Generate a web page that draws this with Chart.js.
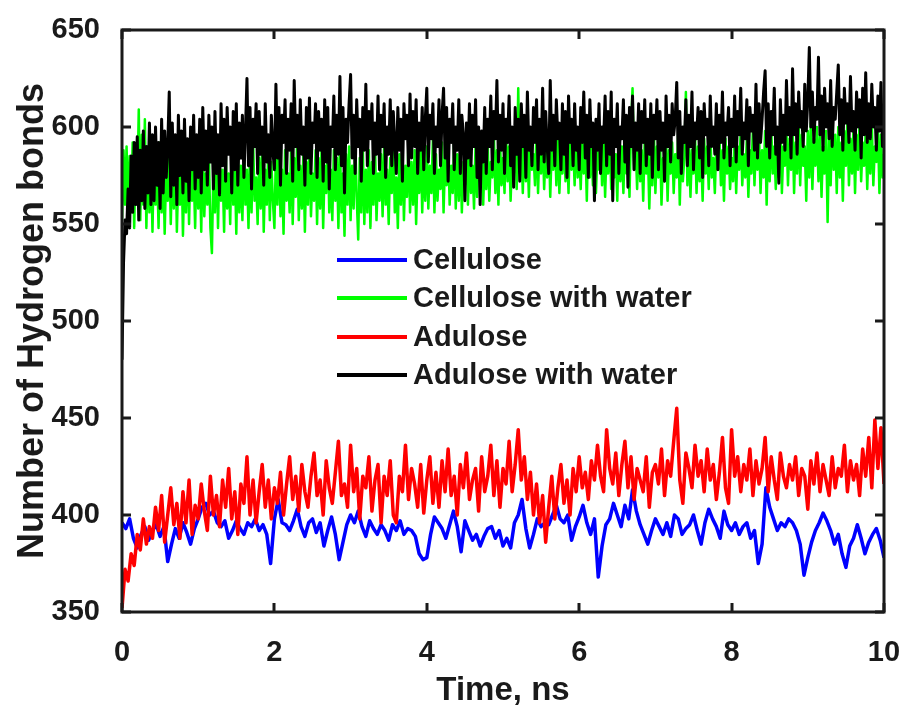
<!DOCTYPE html>
<html>
<head>
<meta charset="utf-8">
<script src="https://cdn.jsdelivr.net/npm/chart.js@4.4.1/dist/chart.umd.min.js"></script>
<style>
  html, body { margin: 0; padding: 0; background: #fff; }
  #wrap { width: 905px; height: 705px; }
</style>
</head>
<body>
<div id="wrap"><canvas id="hbonds" width="905" height="705"></canvas></div>
<script>
const seriesLabels = ['Cellulose', 'Cellulose with water', 'Adulose', 'Adulose with water'];
const xTicks = [0, 2, 4, 6, 8, 10];
const yTicks = [350, 400, 450, 500, 550, 600, 650];
const xTitle = 'Time, ns';
const yTitle = 'Number of Hydrogen bonds';
const timeEnd = 10;

// Cellulose (blue), 0.05 ns sampling
const cellulose = [
  396, 393, 398, 388, 383, 390, 394, 387, 392, 395,
  389, 394, 376, 385, 393, 388, 396, 391, 385, 393,
  398, 404, 406, 400, 402, 396, 394, 397, 388, 392,
  397, 393, 390, 396, 394, 398, 392, 395, 390, 375,
  398, 408, 396, 395, 392, 397, 403, 394, 389, 396,
  398, 391, 396, 384, 392, 399, 390, 377, 386, 395,
  400, 396, 402, 394, 389, 397, 393, 390, 395, 392,
  387, 395, 392, 397, 390, 393, 392, 389, 380, 377,
  378, 390, 399, 396, 393, 388, 395, 402, 394, 381,
  397, 392, 387, 390, 384, 389, 393, 394, 388, 392,
  384, 388, 383, 396, 400, 408, 393, 383, 390, 398,
  394, 396, 395, 400, 405, 398, 396, 400, 387, 394,
  399, 405, 396, 390, 398, 368, 384, 395, 398, 406,
  400, 394, 405, 398, 413, 402, 395, 390, 385, 392,
  398, 394, 390, 396, 389, 400, 398, 390, 393, 395,
  400, 392, 385, 396, 403, 398, 394, 388, 402, 395,
  392, 396, 390, 394, 396, 388, 392, 375, 385, 414,
  404, 398, 392, 396, 394, 398, 396, 392, 385, 369,
  378, 386, 392, 396, 401, 397, 392, 385, 390, 380,
  373, 384, 388, 395, 388, 380, 386, 390, 393, 387,
  378
];

// Cellulose with water (green), 0.02 ns sampling
const celluloseWater = [
  552, 588, 560, 590, 555, 585, 562, 592, 548, 586,
  566, 609, 552, 596, 560, 604, 548, 590, 556, 584,
  546, 588, 560, 580, 548, 592, 556, 584, 545, 578,
  562, 590, 550, 582, 558, 594, 546, 576, 560, 586,
  544, 580, 556, 590, 550, 584, 562, 578, 548, 588,
  558, 582, 546, 592, 554, 576, 560, 586, 548, 535,
  580, 556, 590, 548, 584, 562, 578, 546, 588, 558,
  576, 550, 592, 560, 582, 545, 586, 556, 580, 552,
  590, 560, 578, 548, 586, 556, 594, 562, 574, 550,
  584, 558, 590, 546, 578, 560, 588, 552, 582, 562,
  548, 586, 560, 592, 554, 578, 545, 588, 562, 576,
  556, 590, 550, 584, 564, 594, 552, 580, 558, 586,
  546, 582, 560, 592, 554, 576, 562, 588, 550, 584,
  558, 590, 548, 580, 566, 594, 556, 578, 552, 588,
  562, 584, 548, 592, 556, 576, 544, 586, 560, 590,
  552, 580, 558, 594, 564, 542, 584, 556, 590, 550,
  578, 556, 588, 548, 582, 560, 592, 552, 576, 562,
  586, 554, 590, 560, 578, 550, 584, 566, 592, 556,
  574, 548, 586, 560, 590, 552, 580, 564, 594, 556,
  582, 560, 588, 550, 578, 566, 592, 556, 584, 562,
  590, 558, 580, 566, 594, 556, 586, 562, 578, 568,
  592, 556, 584, 570, 590, 560, 580, 566, 596, 558,
  586, 562, 590, 556, 582, 570, 594, 560, 588, 566,
  580, 558, 592, 564, 586, 572, 596, 560, 584, 568,
  590, 562, 582, 574, 596, 566, 588, 560, 594, 570,
  584, 566, 598, 572, 590, 562, 586, 574, 600, 568,
  620, 576, 592, 566, 596, 572, 588, 564, 598, 578,
  586, 570, 600, 566, 592, 576, 596, 568, 588, 574,
  598, 564, 590, 578, 600, 570, 594, 566, 588, 576,
  596, 572, 590, 566, 600, 578, 592, 570, 598, 574,
  588, 568, 596, 576, 592, 562, 598, 574, 590, 570,
  596, 566, 588, 578, 600, 570, 594, 564, 590, 576,
  598, 568, 592, 574, 586, 562, 596, 572, 590, 566,
  594, 576, 588, 564, 600, 620, 578, 592, 568, 596,
  572, 588, 562, 594, 576, 590, 558, 586, 570, 598,
  566, 590, 574, 594, 560, 584, 572, 596, 562, 588,
  576, 592, 566, 586, 574, 598, 560, 590, 572, 584,
  618, 570, 594, 564, 588, 576, 596, 566, 590, 572,
  586, 562, 594, 576, 590, 568, 598, 574, 584, 566,
  592, 578, 596, 570, 588, 562, 594, 576, 590, 568,
  584, 572, 596, 566, 590, 578, 598, 570, 586, 574,
  594, 564, 588, 576, 600, 570, 592, 578, 596, 566,
  588, 574, 598, 560, 594, 572, 600, 576, 590, 568,
  596, 574, 604, 566, 590, 580, 598, 570, 594, 578,
  600, 566, 592, 576, 604, 570, 596, 580, 590, 562,
  598, 574, 602, 568, 594, 580, 600, 572, 596, 564,
  590, 576, 598, 551, 594, 570, 602, 578, 596, 566,
  600, 574, 592, 562, 598, 580, 604, 570, 594, 576,
  600, 566, 596, 578, 604, 572, 592, 580, 598, 568,
  594, 576, 602, 570, 590, 582, 600, 566, 596, 574,
  586
];

// Adulose (red), 0.04 ns sampling
const adulose = [
  352, 372, 366, 380, 374, 390, 382, 398, 385, 394,
  388, 404, 392, 410, 386, 400, 414, 395, 406, 388,
  412, 396, 418, 390, 405, 398, 416, 402, 392, 420,
  400, 410, 394, 418, 404, 424, 398, 412, 390, 416,
  406, 430, 400, 418, 396, 412, 426, 404, 418, 398,
  414, 406, 422, 400, 416, 430, 408, 420, 402, 426,
  412, 404, 420, 432, 410, 418, 400, 428, 414, 406,
  422, 438, 410, 416, 404, 436, 412, 424, 398, 420,
  414, 430, 402, 418, 426, 396, 420, 410, 428, 400,
  396, 420, 412, 436, 408, 424, 416, 404, 426, 401,
  418, 430, 406, 422, 404, 428, 412, 434, 410, 420,
  400, 426, 414, 432, 408, 418, 424, 402, 430, 412,
  420, 436, 410, 428, 404, 424, 416, 438, 412, 426,
  444, 418, 430, 408, 422, 400, 416, 396, 410, 386,
  404, 420, 398, 414, 426, 406, 418, 400, 424, 412,
  430, 414, 422, 408, 428, 418, 436, 420, 412, 444,
  424, 416, 432, 410, 426, 438, 414, 430, 408, 424,
  418, 412, 430, 404, 422, 426, 416, 434, 410, 428,
  420, 438, 455, 418, 406, 432, 424, 414, 436, 420,
  428, 412, 434, 418, 426, 408, 422, 440, 414, 406,
  444, 420, 430, 412, 426, 418, 434, 410, 428, 416,
  424, 440, 412, 430, 418, 408, 432, 420, 414, 426,
  418, 430, 410, 424, 420, 403, 428, 416, 432, 412,
  426, 418, 410, 430, 414, 424, 420, 436, 412, 428,
  418, 426, 410, 434, 420, 440, 414, 449, 424, 445, 416
];

// Adulose with water (black), 0.02 ns sampling
const aduloseWater = [
  480, 530, 552, 545, 568, 548, 585, 556, 592, 560,
  595, 552, 588, 562, 598, 558, 590, 566, 602, 560,
  596, 562, 600, 570, 592, 558, 604, 566, 598, 574,
  590, 618, 564, 602, 570, 596, 560, 606, 575, 598,
  566, 604, 572, 594, 562, 600, 578, 606, 568, 596,
  574, 604, 566, 610, 578, 598, 570, 606, 582, 600,
  568, 608, 576, 596, 565, 612, 580, 604, 572, 610,
  586, 600, 566, 608, 578, 612, 570, 602, 584, 606,
  574, 598, 625, 580, 610, 568, 604, 590, 612, 576,
  608, 586, 600, 570, 612, 582, 596, 574, 606, 588,
  578, 622, 584, 610, 570, 606, 592, 614, 576, 604,
  588, 612, 572, 624, 590, 606, 578, 614, 586, 600,
  570, 610, 584, 615, 576, 602, 592, 612, 574, 608,
  588, 604, 572, 614, 582, 610, 568, 600, 590, 616,
  578, 606, 586, 626, 580, 610, 566, 604, 592, 612,
  627, 584, 606, 576, 614, 590, 604, 572, 610, 588,
  622, 580, 608, 594, 612, 576, 602, 586, 616, 578,
  606, 590, 612, 574, 600, 586, 614, 580, 608, 592,
  576, 610, 588, 604, 572, 612, 594, 606, 580, 617,
  584, 608, 590, 614, 576, 602, 588, 610, 578, 604,
  620, 582, 606, 594, 612, 576, 600, 590, 614, 580,
  606, 620, 584, 610, 572, 604, 592, 612, 578, 600,
  588, 614, 576, 606, 596, 562, 602, 584, 612, 580,
  606, 590, 614, 574, 600, 560, 598, 582, 610, 576,
  604, 590, 616, 578, 608, 594, 624, 582, 606, 588,
  612, 576, 604, 592, 616, 580, 600, 569, 610, 586,
  604, 572, 612, 590, 606, 574, 618, 588, 600, 580,
  610, 592, 614, 578, 604, 586, 620, 582, 608, 590,
  576, 624, 588, 606, 580, 614, 594, 602, 578, 612,
  586, 608, 574, 616, 592, 604, 580, 612, 588, 600,
  578, 610, 592, 618, 584, 606, 574, 614, 590, 602,
  562, 604, 588, 612, 576, 600, 592, 616, 580, 608,
  586, 618, 562, 604, 590, 612, 576, 600, 594, 614,
  582, 606, 569, 610, 590, 616, 578, 602, 588, 612,
  576, 608, 592, 614, 580, 604, 586, 612, 574, 606,
  594, 614, 578, 608, 588, 602, 572, 616, 590, 606,
  582, 612, 596, 604, 623, 584, 608, 576, 600, 592,
  614, 580, 606, 590, 618, 578, 602, 594, 610, 584,
  608, 574, 612, 596, 604, 580, 616, 590, 600, 586,
  612, 578, 606, 592, 618, 584, 602, 596, 610, 580,
  604, 590, 616, 582, 608, 596, 620, 586, 602, 594,
  614, 580, 610, 598, 606, 588, 622, 584, 612, 592,
  604, 618, 629, 590, 612, 584, 608, 596, 620, 586,
  600, 571, 614, 592, 606, 588, 624, 596, 610, 584,
  630, 596, 612, 586, 618, 600, 608, 590, 622, 598,
  614, 641, 600, 618, 592, 610, 604, 636, 596, 616,
  588, 620, 600, 612, 594, 624, 590, 610, 604, 618,
  632, 596, 614, 588, 620, 602, 612, 592, 626, 598,
  608, 588, 618, 600, 614, 584, 620, 596, 628, 592,
  612, 594, 622, 600, 610, 588, 616, 598, 623, 590,
  612
];

const seriesColors = ['#0000ff', '#00ff00', '#ff0000', '#000000'];
const inkColor = '#1a1a1a';

// evenly spaced time stamps for a sampled trace
function toPoints(values) {
  const step = timeEnd / (values.length - 1);
  return values.map((v, i) => ({ x: i * step, y: v }));
}

// --- PLUGIN: MATLAB-like box, inward ticks, axis titles, in-plot legend ---
const matlabFrame = {
  id: 'matlabFrame',
  afterDraw(chart) {
    const { ctx, chartArea: a, scales: { x, y } } = chart;
    ctx.save();
    ctx.strokeStyle = inkColor;
    ctx.lineWidth = 3;
    ctx.lineCap = 'butt';
    ctx.strokeRect(a.left, a.top, a.right - a.left, a.bottom - a.top);

    const tick = 9;
    ctx.beginPath();
    xTicks.forEach(v => {
      const px = Math.round(x.getPixelForValue(v));
      ctx.moveTo(px, a.bottom); ctx.lineTo(px, a.bottom - tick);
      ctx.moveTo(px, a.top); ctx.lineTo(px, a.top + tick);
    });
    yTicks.forEach(v => {
      const py = Math.round(y.getPixelForValue(v));
      ctx.moveTo(a.left, py); ctx.lineTo(a.left + tick, py);
      ctx.moveTo(a.right, py); ctx.lineTo(a.right - tick, py);
    });
    ctx.stroke();

    // axis titles
    ctx.fillStyle = inkColor;
    ctx.textAlign = 'center';
    ctx.textBaseline = 'alphabetic';
    ctx.font = 'bold 33px "Liberation Sans", Arial, sans-serif';
    ctx.fillText(xTitle, (a.left + a.right) / 2, 700);
    ctx.save();
    ctx.translate(43, (a.top + a.bottom) / 2);
    ctx.rotate(-Math.PI / 2);
    ctx.font = 'bold 36px "Liberation Sans", Arial, sans-serif';
    ctx.fillText(yTitle, 0, 0);
    ctx.restore();

    // legend (no box), drawn inside the axes
    const legendX = 337, lineLen = 70, textX = 413;
    const rowY = [260, 298, 337, 375];
    ctx.font = 'bold 29px "Liberation Sans", Arial, sans-serif';
    ctx.textAlign = 'left';
    ctx.textBaseline = 'middle';
    seriesLabels.forEach((label, i) => {
      ctx.strokeStyle = seriesColors[i];
      ctx.lineWidth = 4;
      ctx.beginPath();
      ctx.moveTo(legendX, rowY[i]);
      ctx.lineTo(legendX + lineLen, rowY[i]);
      ctx.stroke();
      ctx.fillStyle = inkColor;
      ctx.fillText(label, textX, rowY[i] + 1);
    });
    ctx.restore();
  }
};

const tickFont = { family: '"Liberation Sans", Arial, sans-serif', size: 29, weight: 'bold' };

new Chart(document.getElementById('hbonds'), {
  type: 'line',
  data: {
    datasets: [
      { label: seriesLabels[0], data: toPoints(cellulose), borderColor: seriesColors[0], borderWidth: 3.5, order: 3 },
      { label: seriesLabels[1], data: toPoints(celluloseWater), borderColor: seriesColors[1], borderWidth: 2.5, order: 2 },
      { label: seriesLabels[2], data: toPoints(adulose), borderColor: seriesColors[2], borderWidth: 3.5, order: 1 },
      { label: seriesLabels[3], data: toPoints(aduloseWater), borderColor: seriesColors[3], borderWidth: 3, order: 0 }
    ].map(ds => ({ ...ds, pointRadius: 0, tension: 0, fill: false, borderJoinStyle: 'round' }))
  },
  options: {
    responsive: false,
    animation: false,
    events: [],
    layout: { padding: { top: 30, right: 21, left: 0, bottom: 0 } },
    plugins: { legend: { display: false }, tooltip: { enabled: false } },
    scales: {
      x: {
        type: 'linear', min: 0, max: 10,
        grid: { display: false }, border: { display: false },
        ticks: { stepSize: 2, font: tickFont, color: inkColor, padding: 16, maxRotation: 0, autoSkip: false },
        afterFit: s => { s.height = 93; s.paddingLeft = 0; s.paddingRight = 0; }
      },
      y: {
        min: 350, max: 650,
        grid: { display: false }, border: { display: false },
        ticks: { stepSize: 50, font: tickFont, color: inkColor, padding: 14 },
        afterFit: s => { s.width = 122; s.paddingTop = 0; s.paddingBottom = 0; }
      }
    }
  },
  plugins: [matlabFrame]
});
</script>
</body>
</html>
